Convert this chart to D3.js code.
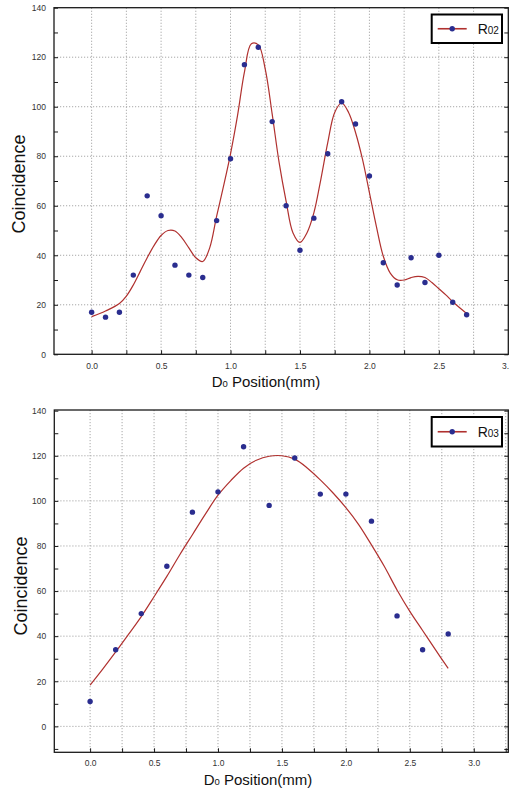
<!DOCTYPE html>
<html>
<head>
<meta charset="utf-8">
<script src="https://cdn.jsdelivr.net/npm/d3@7"></script>
<style>
  html, body { margin: 0; padding: 0; background: #fff; }
  svg { display: block; font-family: "Liberation Sans", Arial, sans-serif; }
</style>
</head>
<body>
<svg id="chart" width="509" height="792"></svg>
<script>
// ---------- Data: top panel (R02) ----------
const r02X = [0.0,0.1,0.2,0.3,0.4,0.5,0.6,0.7,0.8,0.9,1.0,1.1,1.2,1.3,1.4,1.5,1.6,1.7,1.8,1.9,2.0,2.1,2.2,2.3,2.4,2.5,2.6,2.7];
const r02Y = [17,15,17,32,64,56,36,32,31,54,79,117,124,94,60,42,55,81,102,93,72,37,28,39,29,40,21,16];
// fitted curve
const r02FitX = [0.0,0.1,0.2,0.25,0.3,0.35,0.4,0.45,0.5,0.55,0.6,0.65,0.7,0.75,0.8,0.85,0.9,0.95,1.0,1.05,1.1,1.15,1.2,1.25,1.3,1.35,1.4,1.45,1.5,1.55,1.6,1.65,1.7,1.75,1.8,1.85,1.9,1.95,2.0,2.05,2.1,2.15,2.2,2.25,2.3,2.35,2.4,2.45,2.5,2.55,2.6,2.65,2.7];
const r02FitY = [15.2,17.5,20.5,23.5,28,33.5,39,44,48,50,49.8,47,43,39,37.5,43,55.8,68,81,96.3,114,125.4,125,115.2,97,77.4,61.9,49,45.2,49,57.1,70.6,85.5,97.7,101.5,97.7,89.6,78.8,65.3,51.7,39.6,32.8,30.1,30,31,31.5,31,29,26.5,24,21.2,18.8,16.5];

// ---------- Data: bottom panel (R03) ----------
const r03X = [0.0,0.2,0.4,0.6,0.8,1.0,1.2,1.4,1.6,1.8,2.0,2.2,2.4,2.6,2.8];
const r03Y = [11,34,50,71,95,104,124,98,119,103,103,91,49,34,41];
const r03FitX = [0.0,0.1,0.2,0.3,0.4,0.5,0.6,0.7,0.8,0.9,1.0,1.1,1.2,1.3,1.4,1.5,1.6,1.7,1.8,1.9,2.0,2.1,2.2,2.3,2.4,2.5,2.6,2.7,2.8];
const r03FitY = [18.3,25.5,33,40.8,48.7,57.5,66.5,76,85,94,102.5,109,114.5,118,119.8,120,118.5,114.5,109.3,103.5,97,89.5,80.5,71,60.5,51,42.5,34,25.7];

// ---------- Tick labels ----------
const xTickValues = [0.0,0.5,1.0,1.5,2.0,2.5,3.0];
const xTickLabelsTop = ["0.0","0.5","1.0","1.5","2.0","2.5","3."];
const xTickLabelsBottom = ["0.0","0.5","1.0","1.5","2.0","2.5","3.0"];
const yTickValues = [0,20,40,60,80,100,120,140];
const yTickLabels = ["0","20","40","60","80","100","120","140"];
const seriesNames = [["R","02"],["R","03"]];

const svg = d3.select("#chart");
const W = 509;
const DOT = "#2a2d8f", CURVE = "#b0312f", GRID = "#a8a8a8", AXIS = "#1a1a1a", TXT = "#333";

function panel(cfg) {
  const x = d3.scaleLinear().domain(cfg.xDomain).range([cfg.left, cfg.right]);
  const y = d3.scaleLinear().domain(cfg.yDomain).range([cfg.bottom, cfg.top]);
  const g = svg.append("g");

  // grid: vertical every 0.25, horizontal every 20
  const vGrid = d3.range(0, 3.26, 0.25).filter(v => x(v) > cfg.left + 1 && x(v) < cfg.right - 1);
  g.selectAll(".vg").data(vGrid).enter().append("line")
    .attr("x1", d => x(d)).attr("x2", d => x(d))
    .attr("y1", cfg.top).attr("y2", cfg.bottom)
    .attr("stroke", GRID).attr("stroke-width", 1).attr("stroke-dasharray", "1.2,1.8");
  const hGrid = yTickValues.filter(v => y(v) > cfg.top + 1 && y(v) < cfg.bottom - 1);
  g.selectAll(".hg").data(hGrid).enter().append("line")
    .attr("x1", cfg.left).attr("x2", cfg.right)
    .attr("y1", d => y(d)).attr("y2", d => y(d))
    .attr("stroke", GRID).attr("stroke-width", 1).attr("stroke-dasharray", "1.2,1.8");

  // minor ticks (inward) every 10 on left/right, every 0.25 on bottom
  const yMinor = d3.range(-10, 141, 10).filter(v => y(v) >= cfg.top && y(v) <= cfg.bottom);
  g.append("g").attr("transform", `translate(${cfg.left},0)`)
    .call(d3.axisRight(y).tickValues(yMinor).tickSize(4).tickFormat(""))
    .call(a => a.select(".domain").remove())
    .call(a => a.selectAll("line").attr("stroke", AXIS));
  g.append("g").attr("transform", `translate(${cfg.right},0)`)
    .call(d3.axisLeft(y).tickValues(yMinor).tickSize(4).tickFormat(""))
    .call(a => a.select(".domain").remove())
    .call(a => a.selectAll("line").attr("stroke", AXIS));
  g.append("g").attr("transform", `translate(0,${cfg.bottom})`)
    .call(d3.axisTop(x).tickValues(vGrid).tickSize(4).tickFormat(""))
    .call(a => a.select(".domain").remove())
    .call(a => a.selectAll("line").attr("stroke", AXIS));

  // tick labels via axes
  const xa = g.append("g").attr("transform", `translate(0,${cfg.bottom})`)
    .call(d3.axisBottom(x).tickValues(xTickValues).tickSize(0).tickPadding(cfg.xPad)
      .tickFormat((d, i) => cfg.xLabels[i]));
  xa.select(".domain").remove();
  xa.selectAll("text").attr("font-size", 8.5).attr("fill", TXT).attr("font-family", "Liberation Sans, Arial, sans-serif");
  // keep any label that would run past the right edge inside the page
  xa.selectAll(".tick").each(function(d) {
    const t = d3.select(this).select("text");
    const half = this.querySelector("text").getComputedTextLength() / 2;
    if (x(d) + half > W - 0.5) t.attr("text-anchor", "end").attr("x", (W - 0.5) - x(d));
  });
  const ya = g.append("g").attr("transform", `translate(${cfg.left},0)`)
    .call(d3.axisLeft(y).tickValues(yTickValues).tickSize(0).tickPadding(8)
      .tickFormat((d, i) => yTickLabels[i]));
  ya.select(".domain").remove();
  ya.selectAll("text").attr("font-size", 8.5).attr("fill", TXT).attr("font-family", "Liberation Sans, Arial, sans-serif");

  // frame
  g.append("rect").attr("x", cfg.left).attr("y", cfg.top)
    .attr("width", cfg.right - cfg.left).attr("height", cfg.bottom - cfg.top)
    .attr("fill", "none").attr("stroke", AXIS).attr("stroke-width", 1.3);

  // fit curve
  const line = d3.line().x(d => x(d[0])).y(d => y(d[1])).curve(d3.curveCatmullRom.alpha(0.5));
  g.append("path").datum(d3.zip(cfg.fitX, cfg.fitY))
    .attr("d", line).attr("fill", "none").attr("stroke", CURVE).attr("stroke-width", 1.2);

  // points
  g.selectAll(".pt").data(d3.zip(cfg.px, cfg.py)).enter().append("circle")
    .attr("cx", d => x(d[0])).attr("cy", d => y(d[1])).attr("r", 2.7).attr("fill", DOT);

  // axis titles
  g.append("text")
    .attr("transform", `translate(${cfg.yLabelX},${cfg.yLabelY}) rotate(-90)`)
    .attr("text-anchor", "middle").attr("font-size", 18).attr("fill", "#111")
    .text("Coincidence");
  const xt = g.append("text").attr("x", cfg.xLabelX).attr("y", cfg.xLabelY)
    .attr("text-anchor", "middle").attr("font-size", 15).attr("fill", "#111");
  xt.append("tspan").text("D");
  xt.append("tspan").attr("font-size", 9.5).text("0");
  xt.append("tspan").text(" Position(mm)");

  // legend
  const L = cfg.legend;
  g.append("rect").attr("x", L.x).attr("y", L.y).attr("width", L.w).attr("height", L.h)
    .attr("fill", "#fff").attr("stroke", "#000").attr("stroke-width", 2);
  const ly = L.y + L.h / 2;
  g.append("line").attr("x1", L.x + 6).attr("x2", L.x + 35).attr("y1", ly).attr("y2", ly)
    .attr("stroke", CURVE).attr("stroke-width", 1.6);
  g.append("circle").attr("cx", L.x + 20.5).attr("cy", ly).attr("r", 2.7).attr("fill", DOT);
  const lt = g.append("text").attr("x", L.x + 46).attr("y", ly + 5).attr("font-size", 14).attr("fill", "#111");
  lt.append("tspan").text(cfg.name[0]);
  lt.append("tspan").attr("font-size", 10).text(cfg.name[1]);
}

panel({
  xDomain: [-0.271, 3.0], yDomain: [0, 140],
  left: 54, right: 508.3, top: 7.7, bottom: 354.3,
  px: r02X, py: r02Y, fitX: r02FitX, fitY: r02FitY, xLabels: xTickLabelsTop,
  xPad: 9, yLabelX: 25, yLabelY: 184, xLabelX: 266, xLabelY: 387,
  legend: { x: 431.7, y: 14.5, w: 70.3, h: 28.5 }, name: seriesNames[0]
});

panel({
  xDomain: [-0.28, 3.27], yDomain: [-11.5, 140.3],
  left: 54.3, right: 508.3, top: 410, bottom: 752.3,
  px: r03X, py: r03Y, fitX: r03FitX, fitY: r03FitY, xLabels: xTickLabelsBottom,
  xPad: 8, yLabelX: 27, yLabelY: 586, xLabelX: 258, xLabelY: 785,
  legend: { x: 431.7, y: 417, w: 70.3, h: 29.5 }, name: seriesNames[1]
});
</script>
</body>
</html>
